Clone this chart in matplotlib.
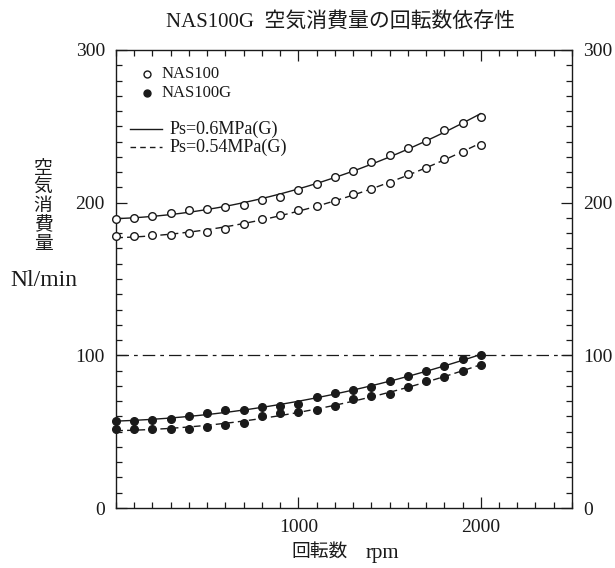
import numpy as np
import matplotlib.pyplot as plt
from matplotlib.ticker import MultipleLocator, FixedLocator

plt.rcParams['font.family'] = ['Liberation Serif', 'Noto Sans CJK JP']

rpm = [0, 100, 200, 300, 400, 500, 600, 700, 800, 900, 1000,
       1100, 1200, 1300, 1400, 1500, 1600, 1700, 1800, 1900, 2000]

# NAS100 (open circles)
nas100_06 = [189, 190, 191.5, 193.5, 195, 196, 197, 198.5, 201.5, 204, 208.5,
             212, 217, 221, 226.5, 231, 236, 240.5, 247.5, 252, 256]
nas100_054 = [178, 178, 178.5, 179, 180, 181, 183, 186, 189, 192, 195.5,
              198, 201, 205.5, 209, 213, 218.5, 223, 228.5, 233.5, 238]

# NAS100G (filled circles)
nas100g_06 = [57, 57, 57.5, 58.5, 60.5, 62.5, 64, 64, 66, 67, 68,
              73, 75.5, 77, 79, 83, 86.5, 90, 93, 97.5, 100]
nas100g_054 = [51.5, 51.5, 51.5, 52, 52, 53, 54.5, 56, 60, 62.5, 63,
               64, 66.5, 71.5, 73.5, 75, 79, 83, 85.5, 89.5, 94]

ink = '#1a1a1a'

fig = plt.figure(figsize=(6.15, 5.68), dpi=100)
ax = fig.add_axes([0.1886, 0.1056, 0.7414, 0.8064])

xs = np.linspace(rpm[0], rpm[-1], 200)
series = [
    (nas100_06, '-', 'white'),
    (nas100_054, (0, (5, 3)), 'white'),
    (nas100g_06, '-', ink),
    (nas100g_054, (0, (5, 3)), ink),
]
for vals, ls, face in series:
    # fitted curve through the measured points
    coef = np.polyfit(rpm, vals, 2)
    ax.plot(xs, np.polyval(coef, xs), color=ink, lw=1.0, ls=ls, zorder=2)
    ax.plot(rpm, vals, 'o', ms=5.5, mfc=face, mec=ink, mew=1.0,
            zorder=3, clip_on=False)

ax.axhline(100, color=ink, lw=0.9, ls=(0, (10, 4, 3, 4)), zorder=1)

ax.set_xlim(0, 2500)
ax.set_ylim(0, 300)
ax.xaxis.set_major_locator(FixedLocator([1000, 2000]))
ax.xaxis.set_minor_locator(MultipleLocator(100))
ax.yaxis.set_major_locator(MultipleLocator(100))
ax.yaxis.set_minor_locator(MultipleLocator(10))
ax.tick_params(which='both', direction='in', color=ink, width=0.9,
               left=True, right=True, labelright=True, top=True,
               labelsize=14, labelcolor=ink)
ax.tick_params(which='major', length=8, pad=8)
ax.tick_params(which='minor', length=4)
for s in ax.spines.values():
    s.set_color(ink)
    s.set_linewidth(1.0)

# legend drawn as text
ax.plot([170], [284], 'o', ms=5, mfc='white', mec=ink, mew=1.0)
ax.plot([170], [272], 'o', ms=5, mfc=ink, mec=ink)
ax.text(250, 284, 'NAS100', fontsize=12, va='center', color=ink)
ax.text(250, 272, 'NAS100G', fontsize=12, va='center', color=ink)
ax.plot([76, 251], [248, 248], color=ink, lw=1.0)
ax.plot([76, 251], [236.5, 236.5], color=ink, lw=1.0, ls=(0, (4, 3)))
ax.text(295, 248, 'Ps=0.6MPa(G)', fontsize=13, va='center', color=ink)
ax.text(295, 236.5, 'Ps=0.54MPa(G)', fontsize=13, va='center', color=ink)

fig.text(0.553, 0.962, 'NAS100G  空気消費量の回転数依存性', fontsize=15,
         ha='center', va='center', color=ink)
fig.text(0.520, 0.018, '回転数', fontsize=13.5, ha='center',
         va='baseline', color=ink)
fig.text(0.621, 0.018, 'rpm', fontsize=15, ha='center',
         va='baseline', color=ink)
fig.text(0.070, 0.636, '空\n気\n消\n費\n量', fontsize=13.5, ha='center',
         va='center', linespacing=1.12, color=ink)
fig.text(0.072, 0.507, 'Nl/min', fontsize=17, ha='center', va='center',
         color=ink)

fig.savefig('out.png', dpi=100)
